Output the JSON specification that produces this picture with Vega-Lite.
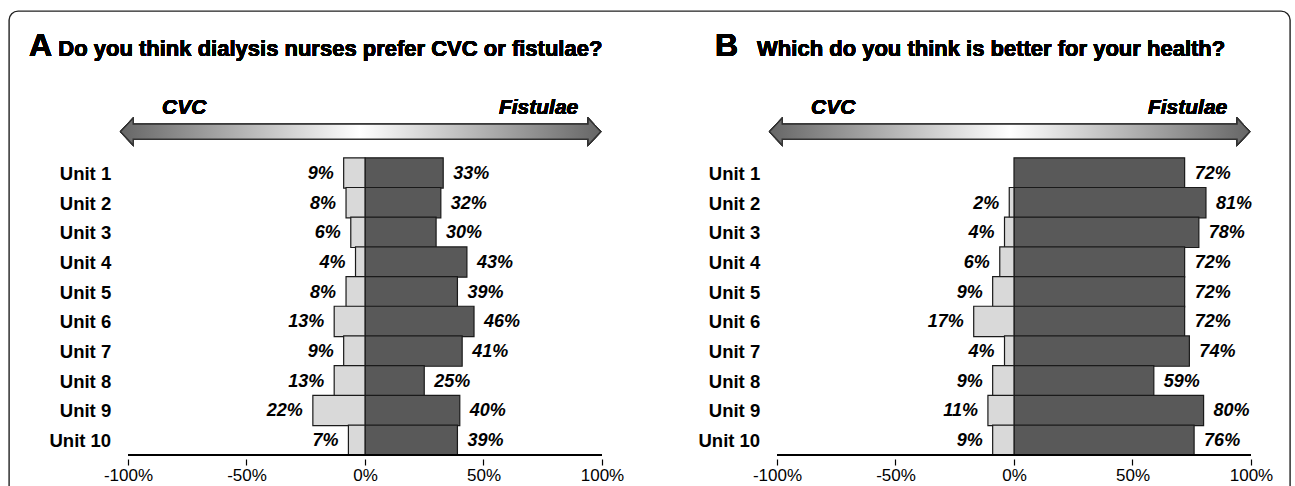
{
  "$schema": "https://vega.github.io/schema/vega-lite/v6.json",
  "autosize": {"type": "none"},
  "padding": {"left": 9, "top": 11, "right": 5, "bottom": -25},
  "width": 1281,
  "height": 500,
  "background": "white",
  "config": {
    "font": "Liberation Sans",
    "view": {"stroke": "#222222", "strokeWidth": 1.4, "cornerRadius": 9, "fill": "white"},
    "axis": {
      "domain": false, "grid": false, "ticks": true, "tickSize": 6, "tickColor": "#000000", "tickWidth": 1.2,
      "labelColor": "#000000", "labelFontSize": 17, "labelFont": "Liberation Sans", "labelPadding": 2,
      "labelFlush": false, "labelOverlap": false, "zindex": 1
    }
  },
  "datasets": {
    "A": [
      {"unit": 1, "cvc": -9, "fistulae": 33},
      {"unit": 2, "cvc": -8, "fistulae": 32},
      {"unit": 3, "cvc": -6, "fistulae": 30},
      {"unit": 4, "cvc": -4, "fistulae": 43},
      {"unit": 5, "cvc": -8, "fistulae": 39},
      {"unit": 6, "cvc": -13, "fistulae": 46},
      {"unit": 7, "cvc": -9, "fistulae": 41},
      {"unit": 8, "cvc": -13, "fistulae": 25},
      {"unit": 9, "cvc": -22, "fistulae": 40},
      {"unit": 10, "cvc": -7, "fistulae": 39}
    ],
    "B": [
      {"unit": 1, "cvc": 0, "fistulae": 72},
      {"unit": 2, "cvc": -2, "fistulae": 81},
      {"unit": 3, "cvc": -4, "fistulae": 78},
      {"unit": 4, "cvc": -6, "fistulae": 72},
      {"unit": 5, "cvc": -9, "fistulae": 72},
      {"unit": 6, "cvc": -17, "fistulae": 72},
      {"unit": 7, "cvc": -4, "fistulae": 74},
      {"unit": 8, "cvc": -9, "fistulae": 59},
      {"unit": 9, "cvc": -11, "fistulae": 80},
      {"unit": 10, "cvc": -9, "fistulae": 76}
    ]
  },
  "resolve": {"scale": {"x": "independent"}, "axis": {"x": "independent"}},
  "layer": [
    {
      "data": {"name": "A"},
      "layer": [
        {
          "mark": {"type": "bar", "height": 30.3, "fill": "#595959", "stroke": "#1a1a1a", "strokeWidth": 1.2},
          "encoding": {
            "x": {"field": "fistulae", "type": "quantitative", "scale": {"domain": [-150.21, 390.30], "nice": false, "zero": false},
                  "axis": {"orient": "bottom", "offset": -52, "values": [-100, -50, 0, 50, 100], "title": null, "labelExpr": "datum.value + '%'", "zindex": 1}},
            "x2": {"datum": 0},
            "y": {"field": "unit", "type": "quantitative", "scale": {"domain": [-4.2855, 12.2162], "reverse": true, "nice": false, "zero": false}, "axis": null}
          }
        },
        {
          "transform": [{"filter": "datum.cvc < 0"}],
          "mark": {"type": "bar", "height": 30.3, "fill": "#d9d9d9", "stroke": "#1a1a1a", "strokeWidth": 1.2},
          "encoding": {
            "x": {"field": "cvc", "type": "quantitative"},
            "x2": {"datum": 0},
            "y": {"field": "unit", "type": "quantitative", "axis": null}
          }
        },
        {
          "transform": [{"filter": "datum.cvc < 0"}],
          "mark": {"type": "text", "align": "right", "baseline": "middle", "dx": -10, "dy": 1, "fontSize": 18, "fontWeight": "bold", "fontStyle": "italic", "color": "#000000", "text": {"expr": "abs(datum.cvc) + '%'"}},
          "encoding": {
            "x": {"field": "cvc", "type": "quantitative"},
            "y": {"field": "unit", "type": "quantitative", "axis": null}
          }
        },
        {
          "mark": {"type": "text", "align": "left", "baseline": "middle", "dx": 10, "dy": 1, "fontSize": 18, "fontWeight": "bold", "fontStyle": "italic", "color": "#000000", "text": {"expr": "datum.fistulae + '%'"}},
          "encoding": {
            "x": {"field": "fistulae", "type": "quantitative"},
            "y": {"field": "unit", "type": "quantitative", "axis": null}
          }
        },
        {
          "mark": {"type": "text", "align": "right", "baseline": "middle", "dy": 1, "fontSize": 18.5, "fontWeight": "bold", "color": "#000000", "text": {"expr": "'Unit ' + datum.unit"}},
          "encoding": {
            "x": {"datum": -107.1, "type": "quantitative"},
            "y": {"field": "unit", "type": "quantitative", "axis": null}
          }
        },
        {
          "mark": {"type": "rule", "stroke": "#000000", "strokeWidth": 1.2},
          "encoding": {
            "x": {"datum": -100, "type": "quantitative"},
            "x2": {"datum": 100},
            "y": {"datum": 10.5, "type": "quantitative", "axis": null}
          }
        },
        {
          "mark": {"type": "point", "shape": "M-1,0L-0.948,-0.0554L-0.948,-0.031L0.948,-0.031L0.948,-0.0554L1,0L0.948,0.0554L0.948,0.031L-0.948,0.031L-0.948,0.0554Z", "size": 230400, "filled": true, "opacity": 1,
                   "fill": {"gradient": "linear", "stops": [{"offset": 0, "color": "#666666"}, {"offset": 0.5, "color": "#ffffff"}, {"offset": 1, "color": "#666666"}]},
                   "stroke": "#333333", "strokeWidth": 1.2},
          "encoding": {
            "x": {"datum": -1.84, "type": "quantitative"},
            "y": {"datum": -0.39, "type": "quantitative", "axis": null}
          }
        },
        {
          "mark": {"type": "text", "align": "left", "baseline": "alphabetic", "fontSize": 21, "fontWeight": "bold", "fontStyle": "italic", "color": "#000000", "text": "CVC"},
          "encoding": {
            "x": {"datum": -85.6, "type": "quantitative"},
            "y": {"datum": -0.969, "type": "quantitative", "axis": null}
          }
        },
        {
          "mark": {"type": "text", "align": "right", "baseline": "alphabetic", "fontSize": 21, "fontWeight": "bold", "fontStyle": "italic", "color": "#000000", "text": "Fistulae"},
          "encoding": {
            "x": {"datum": 90, "type": "quantitative"},
            "y": {"datum": -0.969, "type": "quantitative", "axis": null}
          }
        },
        {
          "mark": {"type": "text", "align": "left", "baseline": "alphabetic", "fontSize": 32, "fontWeight": "bold", "color": "#000000", "text": "A"},
          "encoding": {
            "x": {"datum": -141.8, "type": "quantitative"},
            "y": {"datum": -2.949, "type": "quantitative", "axis": null}
          }
        },
        {
          "mark": {"type": "text", "align": "left", "baseline": "alphabetic", "fontSize": 22, "fontWeight": "bold", "color": "#000000", "text": "Do you think dialysis nurses prefer CVC or fistulae?"},
          "encoding": {
            "x": {"datum": -129.4, "type": "quantitative"},
            "y": {"datum": -2.949, "type": "quantitative", "axis": null}
          }
        }
      ]
    },
    {
      "data": {"name": "B"},
      "layer": [
        {
          "mark": {"type": "bar", "height": 30.3, "fill": "#595959", "stroke": "#1a1a1a", "strokeWidth": 1.2},
          "encoding": {
            "x": {"field": "fistulae", "type": "quantitative", "scale": {"domain": [-424.05, 116.46], "nice": false, "zero": false},
                  "axis": {"orient": "bottom", "offset": -52, "values": [-100, -50, 0, 50, 100], "title": null, "labelExpr": "datum.value + '%'", "zindex": 1}},
            "x2": {"datum": 0},
            "y": {"field": "unit", "type": "quantitative", "axis": null}
          }
        },
        {
          "transform": [{"filter": "datum.cvc < 0"}],
          "mark": {"type": "bar", "height": 30.3, "fill": "#d9d9d9", "stroke": "#1a1a1a", "strokeWidth": 1.2},
          "encoding": {
            "x": {"field": "cvc", "type": "quantitative"},
            "x2": {"datum": 0},
            "y": {"field": "unit", "type": "quantitative", "axis": null}
          }
        },
        {
          "transform": [{"filter": "datum.cvc < 0"}],
          "mark": {"type": "text", "align": "right", "baseline": "middle", "dx": -10, "dy": 1, "fontSize": 18, "fontWeight": "bold", "fontStyle": "italic", "color": "#000000", "text": {"expr": "abs(datum.cvc) + '%'"}},
          "encoding": {
            "x": {"field": "cvc", "type": "quantitative"},
            "y": {"field": "unit", "type": "quantitative", "axis": null}
          }
        },
        {
          "mark": {"type": "text", "align": "left", "baseline": "middle", "dx": 10, "dy": 1, "fontSize": 18, "fontWeight": "bold", "fontStyle": "italic", "color": "#000000", "text": {"expr": "datum.fistulae + '%'"}},
          "encoding": {
            "x": {"field": "fistulae", "type": "quantitative"},
            "y": {"field": "unit", "type": "quantitative", "axis": null}
          }
        },
        {
          "mark": {"type": "text", "align": "right", "baseline": "middle", "dy": 1, "fontSize": 18.5, "fontWeight": "bold", "color": "#000000", "text": {"expr": "'Unit ' + datum.unit"}},
          "encoding": {
            "x": {"datum": -107.1, "type": "quantitative"},
            "y": {"field": "unit", "type": "quantitative", "axis": null}
          }
        },
        {
          "mark": {"type": "rule", "stroke": "#000000", "strokeWidth": 1.2},
          "encoding": {
            "x": {"datum": -100, "type": "quantitative"},
            "x2": {"datum": 100},
            "y": {"datum": 10.5, "type": "quantitative", "axis": null}
          }
        },
        {
          "mark": {"type": "point", "shape": "M-1,0L-0.948,-0.0554L-0.948,-0.031L0.948,-0.031L0.948,-0.0554L1,0L0.948,0.0554L0.948,0.031L-0.948,0.031L-0.948,0.0554Z", "size": 230400, "filled": true, "opacity": 1,
                   "fill": {"gradient": "linear", "stops": [{"offset": 0, "color": "#666666"}, {"offset": 0.5, "color": "#ffffff"}, {"offset": 1, "color": "#666666"}]},
                   "stroke": "#333333", "strokeWidth": 1.2},
          "encoding": {
            "x": {"datum": -1.84, "type": "quantitative"},
            "y": {"datum": -0.39, "type": "quantitative", "axis": null}
          }
        },
        {
          "mark": {"type": "text", "align": "left", "baseline": "alphabetic", "fontSize": 21, "fontWeight": "bold", "fontStyle": "italic", "color": "#000000", "text": "CVC"},
          "encoding": {
            "x": {"datum": -85.6, "type": "quantitative"},
            "y": {"datum": -0.969, "type": "quantitative", "axis": null}
          }
        },
        {
          "mark": {"type": "text", "align": "right", "baseline": "alphabetic", "fontSize": 21, "fontWeight": "bold", "fontStyle": "italic", "color": "#000000", "text": "Fistulae"},
          "encoding": {
            "x": {"datum": 90, "type": "quantitative"},
            "y": {"datum": -0.969, "type": "quantitative", "axis": null}
          }
        },
        {
          "mark": {"type": "text", "align": "left", "baseline": "alphabetic", "fontSize": 32, "fontWeight": "bold", "color": "#000000", "text": "B"},
          "encoding": {
            "x": {"datum": -126.2, "type": "quantitative"},
            "y": {"datum": -2.949, "type": "quantitative", "axis": null}
          }
        },
        {
          "mark": {"type": "text", "align": "left", "baseline": "alphabetic", "fontSize": 22, "fontWeight": "bold", "color": "#000000", "text": "Which do you think is better for your health?"},
          "encoding": {
            "x": {"datum": -108.4, "type": "quantitative"},
            "y": {"datum": -2.949, "type": "quantitative", "axis": null}
          }
        }
      ]
    }
  ]
}
